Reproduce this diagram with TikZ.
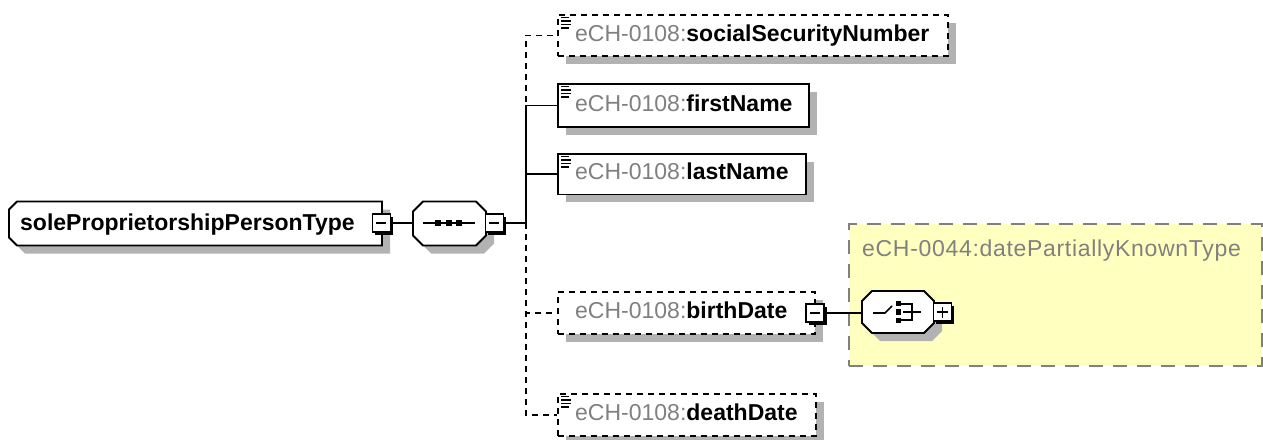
\documentclass[tikz,border=0pt]{standalone}
\usepackage{fontspec}
\setmainfont{Liberation Sans}
\usetikzlibrary{shadows}
\definecolor{shgray}{RGB}{178,178,178}
\definecolor{pfx}{RGB}{128,128,128}
\definecolor{ylw}{RGB}{255,255,192}
\definecolor{ybord}{RGB}{128,128,128}
% chamfered outline: x1 y1 x2 y2 left-chamfer right-chamfer
\newcommand{\xsdchamfer}[6]{%
  \fill[shgray] (#1+8,#2+8+#5) -- (#1+8+#5,#2+8) -- (#3+8-#6,#2+8) -- (#3+8,#2+8+#6)
     -- (#3+8,#4+8-#6) -- (#3+8-#6,#4+8) -- (#1+8+#5,#4+8) -- (#1+8,#4+8-#5) -- cycle;
  \draw[boxline, fill=white] (#1,#2+#5) -- (#1+#5,#2) -- (#3-#6,#2) -- (#3,#2+#6)
     -- (#3,#4-#6) -- (#3-#6,#4) -- (#1+#5,#4) -- (#1,#4-#5) -- cycle;}
\begin{document}
\begin{tikzpicture}[x=1pt,y=-1pt,
  font=\fontsize{23}{27}\selectfont,
  boxline/.style={line width=1.8pt},
  shd/.style={drop shadow={shadow xshift=8pt,shadow yshift=-8pt,fill=shgray,opacity=1}},
  elem/.style={draw, boxline, fill=white, shd, rectangle, anchor=north west, inner sep=0pt},
  hit/.style={draw=none, rectangle, anchor=north west, inner sep=0pt},
  optb/.style={dash pattern=on 6pt off 5pt},
  lbl/.style={anchor=west, inner sep=0pt, text height=16pt, text depth=4pt},
  expbox/.style={draw, fill=white, line width=1.8pt, minimum size=18pt, inner sep=0pt, rectangle,
     drop shadow={shadow xshift=3pt,shadow yshift=-3pt,fill=black,opacity=1}},
  sign/.style={line width=1.6pt},
  conn/.style={line width=1.8pt},
  icon/.style={line width=1.4pt},
  ybox/.style={fill=ylw, draw=ybord, line width=2pt, dash pattern=on 14pt off 10pt, rectangle, anchor=north west, inner sep=0pt}
]
\useasboundingbox (0,0) rectangle (1263,439);

% yellow type box
\node[ybox, minimum width=413pt, minimum height=142pt] (dpk) at (848,223) {};
\node[lbl, text=pfx] (dpkT) at (862,250) {\addfontfeatures{LetterSpace=3}eCH-0044:datePartiallyKnownType};

% main complex type
\xsdchamfer{9}{201.5}{382}{245.5}{8}{0}
\node[hit, minimum width=373pt, minimum height=44pt] (main) at (9,201.5) {};
\node[lbl] (mainT) at (20,224) {\textbf{soleProprietorshipPersonType}};
\node[expbox] (mainX) at ([xshift=-1pt,yshift=0.5pt]main.east) {};
\draw[sign] ([xshift=-5pt]mainX.center) -- ([xshift=5pt]mainX.center);

% sequence compositor
\xsdchamfer{413}{201.5}{486}{245.5}{10}{10}
\node[hit, minimum width=73pt, minimum height=44pt] (seq) at (413,201.5) {};
\draw[sign] (423,223) -- (475,223);
\foreach \xx in {438,449,459} \fill (\xx-3.2,219.8) rectangle (\xx+3.2,226.2);
\node[expbox] (seqX) at ([xshift=8pt,yshift=0.5pt]seq.east) {};
\draw[sign] ([xshift=-5pt]seqX.center) -- ([xshift=5pt]seqX.center);

% junction on the trunk
\coordinate (jn) at (526,223);

% elements
\node[elem, optb, minimum width=390pt, minimum height=41pt] (ssn) at (557,14) {};
\node[elem, minimum width=251pt, minimum height=43pt] (fn) at (557,83) {};
\node[elem, minimum width=248pt, minimum height=40.5pt] (ln) at (557,153) {};
\node[elem, optb, minimum width=257pt, minimum height=42pt] (bd) at (557,291) {};
\node[elem, optb, minimum width=258pt, minimum height=42pt] (dd) at (557,393) {};

\node[lbl] (ssnT) at (575,35) {\textcolor{pfx}{eCH-0108:}\textbf{socialSecurityNumber}};
\node[lbl] (fnT) at (575,105) {\textcolor{pfx}{eCH-0108:}\textbf{firstName}};
\node[lbl] (lnT) at (575,173) {\textcolor{pfx}{eCH-0108:}\textbf{lastName}};
\node[lbl] (bdT) at (575,312) {\textcolor{pfx}{eCH-0108:}\textbf{birthDate}};
\node[lbl] (ddT) at (575,414) {\textcolor{pfx}{eCH-0108:}\textbf{deathDate}};

% simple-content icons
\foreach \t in {14,83,153,393} {
  \fill[white] (559,\t+1.5) rectangle (573,\t+15);
  \draw[icon] (561,\t+3.5) -- (569,\t+3.5);
  \draw[icon] (561,\t+7) -- (571,\t+7);
  \draw[icon] (561,\t+10.5) -- (571,\t+10.5);
  \draw[icon] (561,\t+14) -- (569,\t+14);
}

% birthDate expander
\node[expbox] (bdX) at ([xshift=-1pt]bd.east) {};
\draw[sign] ([xshift=-5pt]bdX.center) -- ([xshift=5pt]bdX.center);

% choice compositor
\xsdchamfer{862}{291}{934}{333}{10}{10}
\node[hit, minimum width=72pt, minimum height=42pt] (cho) at (862,291) {};
\draw[sign] (873,313) -- (885,313) -- (892,306);
\foreach \yy in {303.5,312,320.5} \fill (895.5,\yy-2.7) rectangle (900.5,\yy+2.7);
\draw[sign] (900,304) -- (912,304) -- (912,320) -- (900,320);
\draw[sign] (903,312) -- (921,312);
\node[expbox] (choX) at ([xshift=8pt]cho.east) {};
\draw[sign] ([xshift=-5.5pt]choX.center) -- ([xshift=5.5pt]choX.center);
\draw[sign] ([yshift=-5.5pt]choX.center) -- ([yshift=5.5pt]choX.center);

% connectors
\draw[conn] (mainX.east) -- (mainX.east -| seq.west);
\draw[conn, optb] (jn) |- (ssn.west);
\draw[conn, optb] (jn) |- (bd.west);
\draw[conn, optb] (jn) |- (dd.west);
\draw[conn] (jn) |- (fn.west);
\draw[conn] (jn) |- (ln.west);
\draw[conn] (seqX.east) -- (seqX.east -| jn);
\draw[conn] (bdX.east) -- (bdX.east -| cho.west);
\end{tikzpicture}
\end{document}
